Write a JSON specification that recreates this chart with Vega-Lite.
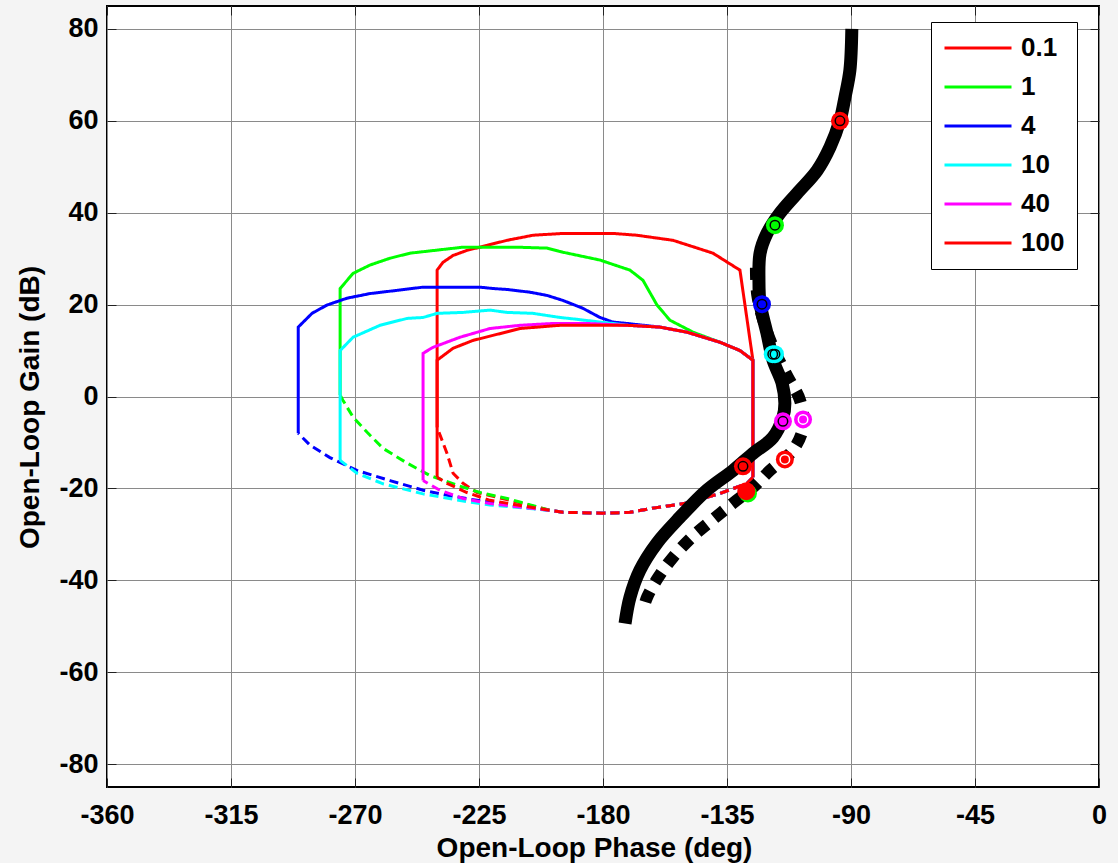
{
  "$schema": "https://vega.github.io/schema/vega-lite/v6.json",
  "width": 992,
  "height": 781,
  "autosize": {"type": "none"},
  "padding": {"left": 107, "top": 6, "right": 19, "bottom": 76},
  "background": "#f4f4f4",
  "config": {
    "view": {"fill": "white", "stroke": "black", "strokeWidth": 2},
    "font": "Liberation Sans"
  },
  "datasets": {
    "curves": [
      {"s":"0.1","p":"solid","x":-240.2,"y":-6.7},{"s":"0.1","p":"solid","x":-240.2,"y":27.5},{"s":"0.1","p":"solid","x":-238.1,"y":29.2},{"s":"0.1","p":"solid","x":-234.4,"y":30.7},{"s":"0.1","p":"solid","x":-229.4,"y":31.8},{"s":"0.1","p":"solid","x":-222.1,"y":32.9},{"s":"0.1","p":"solid","x":-214.8,"y":34.0},{"s":"0.1","p":"solid","x":-205.4,"y":35.1},{"s":"0.1","p":"solid","x":-194.5,"y":35.5},{"s":"0.1","p":"solid","x":-176.4,"y":35.5},{"s":"0.1","p":"solid","x":-167.7,"y":35.1},{"s":"0.1","p":"solid","x":-154.6,"y":34.0},{"s":"0.1","p":"solid","x":-140.1,"y":31.2},{"s":"0.1","p":"solid","x":-130.3,"y":27.5},{"s":"0.1","p":"solid","x":-125.6,"y":7.9},{"s":"0.1","p":"solid","x":-125.6,"y":-17.6},
      {"s":"0.1","p":"dashed","x":-125.6,"y":-17.6},{"s":"0.1","p":"dashed","x":-127.7,"y":-18.9},{"s":"0.1","p":"dashed","x":-137.5,"y":-21.1},{"s":"0.1","p":"dashed","x":-149.5,"y":-23.2},{"s":"0.1","p":"dashed","x":-161.9,"y":-24.3},{"s":"0.1","p":"dashed","x":-170.2,"y":-25.2},{"s":"0.1","p":"dashed","x":-180,"y":-25.4},{"s":"0.1","p":"dashed","x":-194.5,"y":-25.2},{"s":"0.1","p":"dashed","x":-199.2,"y":-24.8},{"s":"0.1","p":"dashed","x":-209,"y":-23.3},{"s":"0.1","p":"dashed","x":-225.7,"y":-20.9},{"s":"0.1","p":"dashed","x":-230.8,"y":-18.9},{"s":"0.1","p":"dashed","x":-234.4,"y":-16.7},{"s":"0.1","p":"dashed","x":-236.6,"y":-12.4},{"s":"0.1","p":"dashed","x":-240.2,"y":-6.7},
      {"s":"1","p":"solid","x":-275.4,"y":0.3},{"s":"1","p":"solid","x":-275.4,"y":23.5},{"s":"1","p":"solid","x":-270.7,"y":26.8},{"s":"1","p":"solid","x":-264.6,"y":28.6},{"s":"1","p":"solid","x":-257.3,"y":30.1},{"s":"1","p":"solid","x":-250,"y":31.2},{"s":"1","p":"solid","x":-230.8,"y":32.5},{"s":"1","p":"solid","x":-211.2,"y":32.5},{"s":"1","p":"solid","x":-200.3,"y":32.3},{"s":"1","p":"solid","x":-194.5,"y":31.4},{"s":"1","p":"solid","x":-181.1,"y":29.7},{"s":"1","p":"solid","x":-170.2,"y":27.5},{"s":"1","p":"solid","x":-165.5,"y":25.3},{"s":"1","p":"solid","x":-160.4,"y":19.9},{"s":"1","p":"solid","x":-155.7,"y":16.6},{"s":"1","p":"solid","x":-147.3,"y":14.0},{"s":"1","p":"solid","x":-137.5,"y":11.8},{"s":"1","p":"solid","x":-130.3,"y":10.0},{"s":"1","p":"solid","x":-125.6,"y":7.9},{"s":"1","p":"solid","x":-125.6,"y":-17.6},
      {"s":"1","p":"dashed","x":-125.6,"y":-17.6},{"s":"1","p":"dashed","x":-127.7,"y":-18.9},{"s":"1","p":"dashed","x":-137.5,"y":-21.1},{"s":"1","p":"dashed","x":-149.5,"y":-23.2},{"s":"1","p":"dashed","x":-161.9,"y":-24.3},{"s":"1","p":"dashed","x":-170.2,"y":-25.2},{"s":"1","p":"dashed","x":-180,"y":-25.4},{"s":"1","p":"dashed","x":-194.5,"y":-25.2},{"s":"1","p":"dashed","x":-199.2,"y":-24.8},{"s":"1","p":"dashed","x":-214.8,"y":-22.2},{"s":"1","p":"dashed","x":-224.6,"y":-20.9},{"s":"1","p":"dashed","x":-233,"y":-19.3},{"s":"1","p":"dashed","x":-242.8,"y":-17.2},{"s":"1","p":"dashed","x":-251.1,"y":-14.5},{"s":"1","p":"dashed","x":-259.8,"y":-11.3},{"s":"1","p":"dashed","x":-265.6,"y":-7.8},{"s":"1","p":"dashed","x":-270.7,"y":-4.5},{"s":"1","p":"dashed","x":-274.4,"y":-0.8},{"s":"1","p":"dashed","x":-275.4,"y":0.3},
      {"s":"4","p":"solid","x":-290.6,"y":-8.0},{"s":"4","p":"solid","x":-290.6,"y":15.1},{"s":"4","p":"solid","x":-285.6,"y":18.1},{"s":"4","p":"solid","x":-280.2,"y":19.9},{"s":"4","p":"solid","x":-272.9,"y":21.4},{"s":"4","p":"solid","x":-264.6,"y":22.4},{"s":"4","p":"solid","x":-254.8,"y":23.1},{"s":"4","p":"solid","x":-245.3,"y":23.8},{"s":"4","p":"solid","x":-224.6,"y":23.8},{"s":"4","p":"solid","x":-219.9,"y":23.5},{"s":"4","p":"solid","x":-214.8,"y":23.3},{"s":"4","p":"solid","x":-206.5,"y":22.7},{"s":"4","p":"solid","x":-200.3,"y":22.0},{"s":"4","p":"solid","x":-194.5,"y":20.9},{"s":"4","p":"solid","x":-187.3,"y":19.2},{"s":"4","p":"solid","x":-181.1,"y":17.2},{"s":"4","p":"solid","x":-176.4,"y":16.2},{"s":"4","p":"solid","x":-171.3,"y":15.9},{"s":"4","p":"solid","x":-159.3,"y":15.1},{"s":"4","p":"solid","x":-149.5,"y":14.0},{"s":"4","p":"solid","x":-137.5,"y":11.8},{"s":"4","p":"solid","x":-130.3,"y":10.0},{"s":"4","p":"solid","x":-125.6,"y":7.9},{"s":"4","p":"solid","x":-125.6,"y":-17.6},
      {"s":"4","p":"dashed","x":-125.6,"y":-17.6},{"s":"4","p":"dashed","x":-127.7,"y":-18.9},{"s":"4","p":"dashed","x":-137.5,"y":-21.1},{"s":"4","p":"dashed","x":-149.5,"y":-23.2},{"s":"4","p":"dashed","x":-161.9,"y":-24.3},{"s":"4","p":"dashed","x":-170.2,"y":-25.2},{"s":"4","p":"dashed","x":-180,"y":-25.4},{"s":"4","p":"dashed","x":-194.5,"y":-25.2},{"s":"4","p":"dashed","x":-199.2,"y":-24.8},{"s":"4","p":"dashed","x":-209,"y":-24.1},{"s":"4","p":"dashed","x":-225.7,"y":-22.6},{"s":"4","p":"dashed","x":-236.6,"y":-21.5},{"s":"4","p":"dashed","x":-245.3,"y":-20.4},{"s":"4","p":"dashed","x":-257.3,"y":-18.3},{"s":"4","p":"dashed","x":-269.3,"y":-16.1},{"s":"4","p":"dashed","x":-279.1,"y":-13.3},{"s":"4","p":"dashed","x":-286.3,"y":-10.6},{"s":"4","p":"dashed","x":-290.6,"y":-8.0},
      {"s":"10","p":"solid","x":-275.4,"y":-13.9},{"s":"10","p":"solid","x":-275.4,"y":10.0},{"s":"10","p":"solid","x":-270.7,"y":12.9},{"s":"10","p":"solid","x":-260.9,"y":15.5},{"s":"10","p":"solid","x":-251.1,"y":17.0},{"s":"10","p":"solid","x":-245.3,"y":17.2},{"s":"10","p":"solid","x":-240.2,"y":18.1},{"s":"10","p":"solid","x":-230.8,"y":18.3},{"s":"10","p":"solid","x":-221,"y":18.8},{"s":"10","p":"solid","x":-214.8,"y":18.3},{"s":"10","p":"solid","x":-205.4,"y":18.1},{"s":"10","p":"solid","x":-195.6,"y":17.2},{"s":"10","p":"solid","x":-189.4,"y":16.8},{"s":"10","p":"solid","x":-181.1,"y":16.2},{"s":"10","p":"solid","x":-176.4,"y":15.9},{"s":"10","p":"solid","x":-171.3,"y":15.5},{"s":"10","p":"solid","x":-159.3,"y":15.1},{"s":"10","p":"solid","x":-149.5,"y":14.0},{"s":"10","p":"solid","x":-137.5,"y":11.8},{"s":"10","p":"solid","x":-130.3,"y":10.0},{"s":"10","p":"solid","x":-125.6,"y":7.9},{"s":"10","p":"solid","x":-125.6,"y":-17.6},
      {"s":"10","p":"dashed","x":-125.6,"y":-17.6},{"s":"10","p":"dashed","x":-127.7,"y":-18.9},{"s":"10","p":"dashed","x":-137.5,"y":-21.1},{"s":"10","p":"dashed","x":-149.5,"y":-23.2},{"s":"10","p":"dashed","x":-161.9,"y":-24.3},{"s":"10","p":"dashed","x":-170.2,"y":-25.2},{"s":"10","p":"dashed","x":-180,"y":-25.4},{"s":"10","p":"dashed","x":-194.5,"y":-25.2},{"s":"10","p":"dashed","x":-199.2,"y":-24.8},{"s":"10","p":"dashed","x":-221,"y":-23.6},{"s":"10","p":"dashed","x":-229.4,"y":-22.9},{"s":"10","p":"dashed","x":-245.3,"y":-21.2},{"s":"10","p":"dashed","x":-259.8,"y":-19.0},{"s":"10","p":"dashed","x":-269.3,"y":-16.7},{"s":"10","p":"dashed","x":-275.4,"y":-13.9},
      {"s":"40","p":"solid","x":-245.3,"y":-18.3},{"s":"40","p":"solid","x":-245.3,"y":9.4},{"s":"40","p":"solid","x":-241.7,"y":10.7},{"s":"40","p":"solid","x":-231.9,"y":12.9},{"s":"40","p":"solid","x":-221,"y":14.8},{"s":"40","p":"solid","x":-210.1,"y":15.5},{"s":"40","p":"solid","x":-198.1,"y":15.9},{"s":"40","p":"solid","x":-185.8,"y":15.9},{"s":"40","p":"solid","x":-171.3,"y":15.5},{"s":"40","p":"solid","x":-159.3,"y":15.1},{"s":"40","p":"solid","x":-149.5,"y":14.0},{"s":"40","p":"solid","x":-137.5,"y":11.8},{"s":"40","p":"solid","x":-130.3,"y":10.0},{"s":"40","p":"solid","x":-125.6,"y":7.9},{"s":"40","p":"solid","x":-125.6,"y":-17.6},
      {"s":"40","p":"dashed","x":-125.6,"y":-17.6},{"s":"40","p":"dashed","x":-127.7,"y":-18.9},{"s":"40","p":"dashed","x":-137.5,"y":-21.1},{"s":"40","p":"dashed","x":-149.5,"y":-23.2},{"s":"40","p":"dashed","x":-161.9,"y":-24.3},{"s":"40","p":"dashed","x":-170.2,"y":-25.2},{"s":"40","p":"dashed","x":-180,"y":-25.4},{"s":"40","p":"dashed","x":-194.5,"y":-25.2},{"s":"40","p":"dashed","x":-199.2,"y":-24.8},{"s":"40","p":"dashed","x":-221,"y":-23.3},{"s":"40","p":"dashed","x":-230.8,"y":-22.2},{"s":"40","p":"dashed","x":-239.2,"y":-20.4},{"s":"40","p":"dashed","x":-245.3,"y":-18.3},
      {"s":"100","p":"solid","x":-240.2,"y":-17.6},{"s":"100","p":"solid","x":-240.2,"y":7.9},{"s":"100","p":"solid","x":-234.4,"y":10.5},{"s":"100","p":"solid","x":-227.2,"y":12.2},{"s":"100","p":"solid","x":-210.1,"y":14.8},{"s":"100","p":"solid","x":-195.6,"y":15.5},{"s":"100","p":"solid","x":-171.3,"y":15.5},{"s":"100","p":"solid","x":-159.3,"y":15.1},{"s":"100","p":"solid","x":-149.5,"y":14.0},{"s":"100","p":"solid","x":-137.5,"y":11.8},{"s":"100","p":"solid","x":-130.3,"y":10.0},{"s":"100","p":"solid","x":-125.6,"y":7.9},{"s":"100","p":"solid","x":-125.6,"y":-17.6},
      {"s":"100","p":"dashed","x":-125.6,"y":-17.6},{"s":"100","p":"dashed","x":-127.7,"y":-18.9},{"s":"100","p":"dashed","x":-137.5,"y":-21.1},{"s":"100","p":"dashed","x":-149.5,"y":-23.2},{"s":"100","p":"dashed","x":-161.9,"y":-24.3},{"s":"100","p":"dashed","x":-170.2,"y":-25.2},{"s":"100","p":"dashed","x":-180,"y":-25.4},{"s":"100","p":"dashed","x":-194.5,"y":-25.2},{"s":"100","p":"dashed","x":-199.2,"y":-24.8},{"s":"100","p":"dashed","x":-221,"y":-22.6},{"s":"100","p":"dashed","x":-229.4,"y":-20.9},{"s":"100","p":"dashed","x":-236.6,"y":-18.9},{"s":"100","p":"dashed","x":-240.2,"y":-17.6}
    ],
    "black": [
      {"p":"solid","x":-89.7,"y":80},{"p":"solid","x":-90.4,"y":71.0},{"p":"solid","x":-92.2,"y":65.1},{"p":"solid","x":-94.0,"y":60.1},{"p":"solid","x":-97.6,"y":54.3},{"p":"solid","x":-102.3,"y":49.2},{"p":"solid","x":-109.6,"y":44.2},{"p":"solid","x":-115.8,"y":39.9},{"p":"solid","x":-120.5,"y":35.5},{"p":"solid","x":-123.0,"y":31.2},{"p":"solid","x":-123.4,"y":25.3},{"p":"solid","x":-123.0,"y":20.3},{"p":"solid","x":-120.5,"y":13.8},{"p":"solid","x":-118.3,"y":7.9},{"p":"solid","x":-115.0,"y":2.9},{"p":"solid","x":-114.0,"y":-1.5},{"p":"solid","x":-114.7,"y":-4.5},{"p":"solid","x":-118.3,"y":-8.9},{"p":"solid","x":-125.6,"y":-12.4},{"p":"solid","x":-132.8,"y":-16.1},{"p":"solid","x":-142.3,"y":-20.4},{"p":"solid","x":-152.1,"y":-26.3},{"p":"solid","x":-160.4,"y":-31.9},{"p":"solid","x":-166.6,"y":-37.8},{"p":"solid","x":-170.2,"y":-43.7},{"p":"solid","x":-172.0,"y":-49.4},
      {"p":"dashed","x":-124.5,"y":28},{"p":"dashed","x":-124,"y":22},{"p":"dashed","x":-121,"y":15},{"p":"dashed","x":-117,"y":9},{"p":"dashed","x":-112.9,"y":4.2},{"p":"dashed","x":-108.5,"y":-0.8},{"p":"dashed","x":-107.4,"y":-6.7},{"p":"dashed","x":-111.1,"y":-11.7},{"p":"dashed","x":-119.4,"y":-16.1},{"p":"dashed","x":-125.6,"y":-19.8},{"p":"dashed","x":-132.8,"y":-23.2},{"p":"dashed","x":-140.4,"y":-26.9},{"p":"dashed","x":-147.7,"y":-30.6},{"p":"dashed","x":-154.6,"y":-35},{"p":"dashed","x":-160,"y":-39.4},{"p":"dashed","x":-164,"y":-43.7},{"p":"dashed","x":-165.5,"y":-46.5}
    ],
    "markers": [
      {"s":"0.1","c":"solid","x":-94.0,"y":60.0},
      {"s":"1","c":"solid","x":-117.6,"y":37.3},
      {"s":"4","c":"solid","x":-122.3,"y":20.1},
      {"s":"10","c":"solid","x":-118.4,"y":9.2},
      {"s":"10","c":"solid","x":-117.6,"y":9.2},
      {"s":"40","c":"solid","x":-114.7,"y":-5.4},
      {"s":"40","c":"dashed","x":-107.4,"y":-5.0},
      {"s":"100","c":"solid","x":-129.2,"y":-15.2},
      {"s":"100","c":"dashed","x":-114.0,"y":-13.7},
      {"s":"1","c":"end","x":-127.4,"y":-21.1},
      {"s":"0.1","c":"end","x":-128.0,"y":-20.6}
    ]
  },
  "resolve": {"axis": {"x": "independent", "y": "independent"}},
  "layer": [
    {
      "data": {"name": "curves"},
      "mark": {"type": "line", "strokeWidth": 3, "clip": true},
      "encoding": {
        "x": {
          "field": "x", "type": "quantitative",
          "scale": {"domain": [-360, 0], "nice": false, "zero": false},
          "axis": {
            "orient": "bottom",
            "values": [-360, -315, -270, -225, -180, -135, -90, -45, 0],
            "labelExpr": "toString(datum.value)",
            "grid": true, "gridColor": "#8a8a8a", "gridWidth": 1,
            "domain": false,
            "ticks": true, "tickSize": -9, "tickColor": "#222222", "tickWidth": 1,
            "labelFontSize": 27, "labelFontWeight": "bold", "labelColor": "black", "labelFont": "Liberation Sans",
            "labelPadding": 24, "labelFlush": false, "labelOverlap": false,
            "title": "Open-Loop Phase (deg)",
            "titleFontSize": 28, "titleFontWeight": "bold", "titleColor": "black", "titleFont": "Liberation Sans",
            "titleX": 487, "titleY": 69, "titleAlign": "center", "titleBaseline": "alphabetic"
          }
        },
        "y": {
          "field": "y", "type": "quantitative",
          "scale": {"domain": [-85, 85], "nice": false, "zero": false},
          "axis": {
            "orient": "left",
            "values": [-80, -60, -40, -20, 0, 20, 40, 60, 80],
            "labelExpr": "toString(datum.value)",
            "grid": true, "gridColor": "#8a8a8a", "gridWidth": 1,
            "domain": false,
            "ticks": true, "tickSize": -9, "tickColor": "#222222", "tickWidth": 1,
            "labelFontSize": 27, "labelFontWeight": "bold", "labelColor": "black", "labelFont": "Liberation Sans",
            "labelPadding": 18, "labelFlush": false, "labelOverlap": false,
            "title": "Open-Loop Gain (dB)",
            "titleFontSize": 28, "titleFontWeight": "bold", "titleColor": "black", "titleFont": "Liberation Sans",
            "titleAngle": -90, "titleX": -69, "titleY": 401, "titleAlign": "center", "titleBaseline": "alphabetic"
          }
        },
        "color": {
          "field": "s", "type": "nominal",
          "scale": {"domain": ["0.1", "1", "4", "10", "40", "100"], "range": ["#ff0000", "#00ff00", "#0000ff", "#00ffff", "#ff00ff", "#ff0000"]},
          "legend": {
            "orient": "none", "legendX": 824, "legendY": 16, "title": null,
            "symbolType": "stroke", "symbolSize": 4489, "symbolStrokeWidth": 3,
            "labelFontSize": 26, "labelFontWeight": "bold", "labelColor": "black", "labelFont": "Liberation Sans",
            "labelOffset": 8, "rowPadding": 11, "clipHeight": 28,
            "strokeColor": "black", "fillColor": "white", "padding": 12
          }
        },
        "strokeDash": {
          "field": "p", "type": "nominal",
          "scale": {"domain": ["solid", "dashed"], "range": [[1, 0], [9, 5]]},
          "legend": null
        },
        "order": {"value": null}
      }
    },
    {
      "data": {"name": "black"},
      "transform": [{"filter": "datum.p === 'solid'"}],
      "mark": {"type": "line", "strokeWidth": 13, "color": "black", "strokeCap": "butt", "interpolate": "catmull-rom", "clip": true},
      "encoding": {
        "x": {
          "field": "x", "type": "quantitative",
          "scale": {"domain": [-360, 0], "nice": false, "zero": false},
          "axis": {
            "orient": "top", "values": [-360, -315, -270, -225, -180, -135, -90, -45, 0],
            "grid": false, "domain": false, "labels": false, "title": null,
            "ticks": true, "tickSize": -9, "tickColor": "#222222", "tickWidth": 1
          }
        },
        "y": {
          "field": "y", "type": "quantitative",
          "scale": {"domain": [-85, 85], "nice": false, "zero": false},
          "axis": {
            "orient": "right", "values": [-80, -60, -40, -20, 0, 20, 40, 60, 80],
            "grid": false, "domain": false, "labels": false, "title": null,
            "ticks": true, "tickSize": -9, "tickColor": "#222222", "tickWidth": 1
          }
        },
        "order": {"value": null}
      }
    },
    {
      "data": {"name": "black"},
      "transform": [{"filter": "datum.p === 'dashed'"}],
      "mark": {"type": "line", "strokeWidth": 12, "color": "black", "strokeCap": "butt", "strokeDash": [12, 10], "interpolate": "catmull-rom", "clip": true},
      "encoding": {
        "x": {"field": "x", "type": "quantitative", "scale": {"domain": [-360, 0], "nice": false, "zero": false}, "axis": null},
        "y": {"field": "y", "type": "quantitative", "scale": {"domain": [-85, 85], "nice": false, "zero": false}, "axis": null},
        "order": {"value": null}
      }
    },
    {
      "data": {"name": "markers"},
      "mark": {"type": "point", "shape": "circle", "filled": true, "size": 324, "opacity": 1},
      "encoding": {
        "x": {"field": "x", "type": "quantitative", "scale": {"domain": [-360, 0], "nice": false, "zero": false}, "axis": null},
        "y": {"field": "y", "type": "quantitative", "scale": {"domain": [-85, 85], "nice": false, "zero": false}, "axis": null},
        "fill": {
          "field": "s", "type": "nominal",
          "scale": {"domain": ["0.1", "1", "4", "10", "40", "100"], "range": ["#ff0000", "#00ff00", "#0000ff", "#00ffff", "#ff00ff", "#ff0000"]},
          "legend": null
        }
      }
    },
    {
      "data": {"name": "markers"},
      "mark": {"type": "point", "shape": "circle", "filled": false, "size": 90, "strokeWidth": 1.5, "opacity": 1},
      "encoding": {
        "x": {"field": "x", "type": "quantitative", "scale": {"domain": [-360, 0], "nice": false, "zero": false}, "axis": null},
        "y": {"field": "y", "type": "quantitative", "scale": {"domain": [-85, 85], "nice": false, "zero": false}, "axis": null},
        "stroke": {
          "field": "c", "type": "nominal",
          "scale": {"domain": ["solid", "dashed", "end"], "range": ["#000000", "#ffffff", "transparent"]},
          "legend": null
        }
      }
    }
  ]
}
